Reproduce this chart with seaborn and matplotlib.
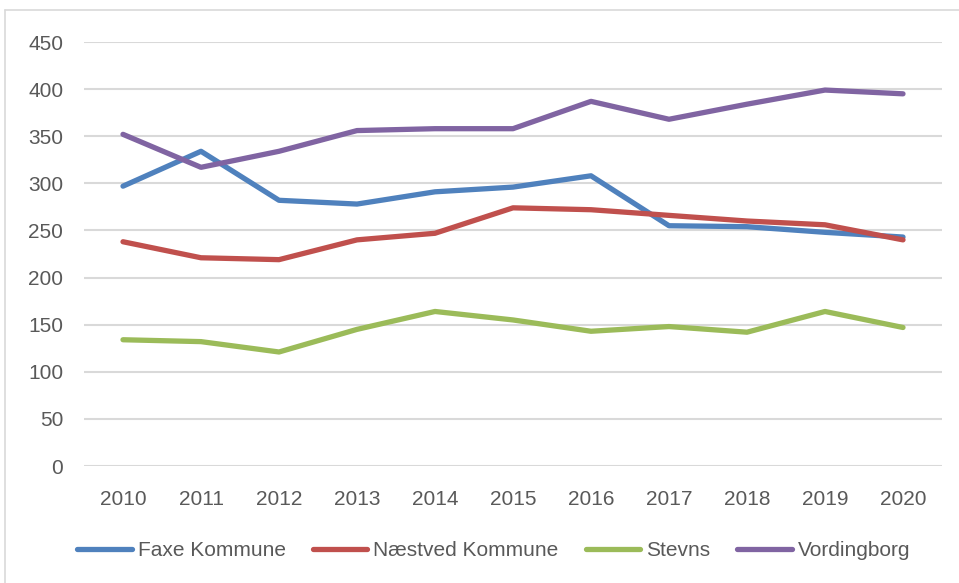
import pandas as pd
import matplotlib.pyplot as plt
import seaborn as sns
from matplotlib.lines import Line2D

# data
years = [2010, 2011, 2012, 2013, 2014, 2015, 2016, 2017, 2018, 2019, 2020]
faxe = [297, 334, 282, 278, 291, 296, 308, 255, 254, 248, 243]
naestved = [238, 221, 219, 240, 247, 274, 272, 266, 260, 256, 240]
stevns = [134, 132, 121, 145, 164, 155, 143, 148, 142, 164, 147]
vordingborg = [352, 317, 334, 356, 358, 358, 387, 368, 384, 399, 395]

series_names = ['Faxe Kommune', 'Næstved Kommune', 'Stevns', 'Vordingborg']
colors = ['#4F81BD', '#C0504D', '#9BBB59', '#8064A2']

df = pd.DataFrame({'År': years, 'Faxe Kommune': faxe, 'Næstved Kommune': naestved,
                   'Stevns': stevns, 'Vordingborg': vordingborg})
df_long = df.melt(id_vars='År', var_name='Kommune', value_name='Antal')

sns.set_style("white")
plt.rcParams['font.family'] = ['Liberation Sans', 'DejaVu Sans']

fig = plt.figure(figsize=(9.59, 5.83), dpi=100)
ax = fig.add_axes([84 / 959, 1 - 466 / 583, 858 / 959, 424 / 583])

sns.lineplot(data=df_long, x='År', y='Antal', hue='Kommune', hue_order=series_names,
             palette=colors, linewidth=3.8, ax=ax, legend=False,
             solid_capstyle='round', solid_joinstyle='round')

ax.set_xlim(2009.5, 2020.5)
ax.set_ylim(0, 450)
ax.set_yticks(range(0, 451, 50))
ax.set_xticks(years)
ax.grid(axis='y', color='#D9D9D9', linewidth=1.5)
ax.set_axisbelow(True)
for s in ax.spines.values():
    s.set_visible(False)
ax.tick_params(axis='y', length=0, pad=15, labelsize=15, labelcolor='#595959')
ax.tick_params(axis='x', length=0, pad=17, labelsize=15, labelcolor='#595959')
ax.set_xlabel('')
ax.set_ylabel('')

# legend at the bottom
handles = [Line2D([0], [0], color=c, linewidth=3.8, solid_capstyle='round') for c in colors]
fig.legend(handles, series_names, loc='center', bbox_to_anchor=(0.515, 1 - 551 / 583),
           ncol=4, frameon=False, fontsize=15, handlelength=2.6, handletextpad=0.3,
           columnspacing=1.3, labelcolor='#595959')

# light chart border (left and top edges visible)
fig.add_artist(Line2D([5 / 959, 5 / 959], [0, 1 - 10 / 583], transform=fig.transFigure,
                      color='#D9D9D9', linewidth=1.2))
fig.add_artist(Line2D([5 / 959, 1], [1 - 10 / 583, 1 - 10 / 583], transform=fig.transFigure,
                      color='#D9D9D9', linewidth=1.2))

fig.savefig('out.png', dpi=100)
